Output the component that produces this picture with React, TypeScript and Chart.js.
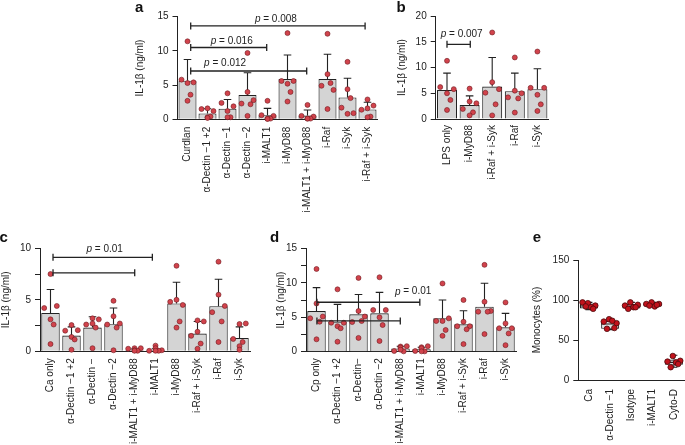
import React, { useEffect, useRef } from "react";
import { Chart, registerables } from "chart.js";

Chart.register(...registerables);

const FONT = '"Liberation Sans", Arial, Helvetica, sans-serif';
const INK = "#222222";
const BAR_FILL = "#d4d4d4";
const BOX_FILL = "#e2e2e2";

// ---------- Panel a ----------
const aLabels = ["Curdlan", "α-Dectin −1 +2", "α-Dectin −1", "α-Dectin −2", "i-MALT1", "i-MyD88", "i-MALT1 + i-MyD88", "i-Raf", "i-Syk", "i-Raf + i-Syk"];
const aMeans = [5.65, 0.85, 1.55, 3.55, 0.6, 5.9, 0.55, 5.9, 3.2, 1.45];
const aSD = [3.1, 0.7, 1.35, 3.25, 1.0, 3.5, 0.8, 3.6, 2.8, 1.05];
const aPoints = [
  [11.4, 5.8, 5.4, 5.3, 3.6, 2.7],
  [1.6, 1.5, 1.2, 0.3, 0.4, 0.2],
  [3.8, 2.4, 1.9, 1.2, 0.3, 0.3],
  [9.7, 2.3, 2.8, 4.0, 2.2, 0.5],
  [2.7, 0.6, 0.5, 0.1, 0.1, 0.05],
  [12.6, 5.6, 5.6, 5.2, 4.0, 2.6],
  [2.1, 0.5, 0.4, 0.1, 0.1, 0.1],
  [12.5, 4.9, 4.3, 6.6, 5.3, 1.5],
  [8.4, 1.7, 0.9, 4.4, 3.1, 0.8],
  [2.9, 1.4, 2.0, 1.6, 0.4, 0.3],
];
const aBrackets = [
  { from: 0.16, to: 8.88, y: 13.65, p: "0.008", labelX: 4.42, labelY: 14.6 },
  { from: 0.16, to: 3.96, y: 10.5, p: "0.016", labelX: 2.21, labelY: 11.45 },
  { from: 0.16, to: 5.96, y: 7.06, p: "0.012", labelX: 1.88, labelY: 8.2 },
];

// ---------- Panel b ----------
const bLabels = ["LPS only", "i-MyD88", "i-Raf + i-Syk", "i-Raf", "i-Syk"];
const bMeans = [5.65, 2.7, 6.3, 5.4, 5.8];
const bSD = [3.25, 1.8, 5.65, 3.5, 3.95];
const bPoints = [
  [11.3, 6.2, 5.8, 5.0, 3.7, 1.75],
  [5.9, 1.95, 3.05, 3.4, 1.3, 0.7],
  [16.8, 5.1, 5.8, 7.15, 2.85, 0.7],
  [11.95, 4.2, 5.0, 5.5, 4.0, 1.25],
  [13.1, 6.05, 6.05, 4.7, 2.85, 1.55],
];
const bBrackets = [{ from: 0, to: 1.03, y: 14.5, p: "0.007", labelX: 0.65, labelY: 16.5 }];

// ---------- Panel c ----------
const cLabels = ["Ca only", "α-Dectin −1 +2", "α-Dectin −", "α-Dectin −2", "i-MALT1 + i-MyD88", "i-MALT1", "i-MyD88", "i-Raf + i-Syk", "i-Raf", "i-Syk"];
const cMeans = [3.73, 1.53, 2.3, 2.63, 0.1, 0.1, 4.64, 1.72, 4.38, 1.3];
const cSD = [2.27, 0.84, 1.05, 1.57, 0.12, 0.15, 2.06, 1.18, 2.62, 1.07];
const cPoints = [
  [7.5, 4.2, 4.4, 3.1, 2.6, 0.7],
  [2.55, 2.0, 2.05, 1.4, 1.15, 0.15],
  [3.2, 2.6, 3.1, 2.7, 2.3, 0.3],
  [4.9, 2.6, 2.7, 3.4, 2.3, 0.1],
  [0.3, 0.25, 0.3, 0.1, 0.05, 0.05],
  [0.55, 0.05, 0.1, 0.3, 0.05, 0.05],
  [8.3, 4.8, 4.5, 5.0, 2.9, 2.3],
  [3.0, 1.5, 2.9, 1.9, 0.75, 0.25],
  [8.7, 3.8, 4.4, 5.5, 2.9, 0.9],
  [2.65, 1.2, 2.7, 0.5, 0.9, 0.15],
];
const cBrackets = [
  { from: 0.12, to: 4.85, y: 9.12, p: "0.01", labelX: 2.58, labelY: 9.93 },
  { from: 0.12, to: 4.01, y: 7.62 },
];

// ---------- Panel d ----------
const dLabels = ["Cp only", "α-Dectin −1 +2", "α-Dectin−", "α-Dectin −2", "i-MALT1 + i-MyD88", "i-MALT1", "i-MyD88", "i-Raf + i-Syk", "i-Raf", "i-Syk"];
const dMeans = [5.9, 4.35, 5.42, 5.56, 0.48, 0.35, 4.84, 3.97, 6.53, 3.53];
const dSD = [3.4, 2.52, 2.88, 3.04, 0.3, 0.3, 2.66, 1.98, 3.39, 2.03];
const dPoints = [
  [12.0, 4.85, 5.1, 7.0, 4.35, 1.8],
  [9.05, 4.2, 4.2, 3.7, 3.4, 1.45],
  [10.7, 4.3, 5.1, 5.9, 4.45, 2.0],
  [10.8, 6.05, 6.05, 4.98, 3.87, 1.55],
  [0.75, 0.1, 0.8, 0.6, 0.05, 0.3],
  [0.65, 0.1, 0.8, 0.5, 0.05, 0.05],
  [9.9, 4.45, 4.84, 4.45, 3.15, 2.3],
  [7.5, 3.7, 3.7, 4.35, 3.25, 1.1],
  [12.6, 5.8, 5.9, 7.25, 5.8, 2.55],
  [7.15, 3.4, 3.4, 4.1, 2.65, 0.95],
];
const dBrackets = [
  { from: 0.02, to: 4.92, y: 7.17, p: "0.01", labelX: 4.6, labelY: 8.7 },
  { from: 0.02, to: 3.99, y: 4.46 },
];

// ---------- Panel e ----------
const eLabels = ["Ca", "α-Dectin −1", "Isotype", "i-MALT1", "Cyto-D"];
const eQ1 = [89.5, 64, 89.5, 92, 19];
const eQ3 = [95.5, 74, 95, 95.5, 25.5];
const eMedian = [92.5, 70, 92, 94, 22];
const eLow = [88, 63, 89, 91.5, 16];
const eHigh = [97, 76, 97, 97, 31];
const ePoints = [
  [96, 97, 93, 91, 92, 89],
  [76, 73, 71, 74, 64, 65],
  [97, 93, 94, 91, 89, 91],
  [97, 95, 95, 92, 93, 94],
  [30, 23, 24, 22, 16, 20],
];

// ---------- styles / layout ----------
const BAR_JITTER = [0, -0.3, 0.3, 0, 0.15, 0];
const BOX_JITTER = [-0.05, -0.3, 0.3, 0.1, -0.15, 0.2];
const BAR_DOT = { r: 2.5, fill: "#d1434c", edge: "#6e1b20", edgeW: 0.6 };
const BOX_DOT = { r: 2.8, fill: "#c1121b", edge: "#4d0a0d", edgeW: 0.8 };
const Y_TITLE_IL = "IL-1β (ng/ml)";

type Bracket = { from: number; to: number; y: number; p?: string; labelX?: number; labelY?: number };
type Spec = {
  id: string;
  canvas: [number, number, number, number];
  area: [number, number, number, number];
  titleX: number;
  yTitle: string;
  labels: string[];
  yMax: number;
  yStep: number;
  yLabelEvery: number;
  barPct: number;
  labelPad: number;
  means?: number[];
  sds?: number[];
  box?: { q1: number[]; q3: number[]; med: number[]; lo: number[]; hi: number[] };
  points: number[][];
  jitter: number[];
  dot: { r: number; fill: string; edge: string; edgeW: number };
  brackets: Bracket[];
};

const SPECS: Spec[] = [
  {
    id: "a", canvas: [120, 0, 270, 215], area: [177.5, 16.7, 377.5, 119.3], titleX: 140, yTitle: Y_TITLE_IL,
    labels: aLabels, yMax: 15, yStep: 5, yLabelEvery: 5, barPct: 0.9, labelPad: 7.5,
    means: aMeans, sds: aSD, points: aPoints, jitter: BAR_JITTER, dot: BAR_DOT, brackets: aBrackets,
  },
  {
    id: "b", canvas: [385, 0, 175, 215], area: [435.7, 16, 548.7, 119], titleX: 402, yTitle: Y_TITLE_IL,
    labels: bLabels, yMax: 20, yStep: 5, yLabelEvery: 5, barPct: 0.885, labelPad: 6,
    means: bMeans, sds: bSD, points: bPoints, jitter: BAR_JITTER, dot: BAR_DOT, brackets: bBrackets,
  },
  {
    id: "c", canvas: [0, 215, 262, 230], area: [40, 248.3, 250, 351.3], titleX: 6, yTitle: Y_TITLE_IL,
    labels: cLabels, yMax: 10, yStep: 2.5, yLabelEvery: 5, barPct: 0.88, labelPad: 7,
    means: cMeans, sds: cSD, points: cPoints, jitter: BAR_JITTER, dot: BAR_DOT, brackets: cBrackets,
  },
  {
    id: "d", canvas: [270, 215, 258, 230], area: [306, 248.3, 516, 351.7], titleX: 281, yTitle: Y_TITLE_IL,
    labels: dLabels, yMax: 15, yStep: 2.5, yLabelEvery: 5, barPct: 0.88, labelPad: 6.5,
    means: dMeans, sds: dSD, points: dPoints, jitter: BAR_JITTER, dot: BAR_DOT, brackets: dBrackets,
  },
  {
    id: "e", canvas: [528, 215, 170, 230], area: [578.3, 260, 684.5, 380], titleX: 537, yTitle: "Monocytes (%)",
    labels: eLabels, yMax: 150, yStep: 50, yLabelEvery: 50, barPct: 0.85, labelPad: 9,
    box: { q1: eQ1, q3: eQ3, med: eMedian, lo: eLow, hi: eHigh }, points: ePoints, jitter: BOX_JITTER, dot: BOX_DOT, brackets: [],
  },
];

const LETTERS: { t: string; x: number; base: number }[] = [
  { t: "a", x: 135, base: 12 },
  { t: "b", x: 396.5, base: 11.7 },
  { t: "c", x: -0.5, base: 241.7 },
  { t: "d", x: 270, base: 241.7 },
  { t: "e", x: 532.7, base: 241.7 },
];

function makePlugin(s: Spec) {
  return {
    id: "extras_" + s.id,
    afterDatasetDraw(chart: any, args: any) {
      if (args.index !== 0) return;
      const { ctx } = chart;
      const x = chart.scales.x;
      const y = chart.scales.y;
      const half = (x.getPixelForValue(1) - x.getPixelForValue(0)) * s.barPct / 2;
      ctx.save();
      ctx.strokeStyle = INK;
      ctx.lineWidth = 1.1;
      if (s.means && s.sds) {
        s.means.forEach((m, i) => {
          const px = x.getPixelForValue(i);
          const y0 = y.getPixelForValue(m);
          const y1 = y.getPixelForValue(m + s.sds![i]);
          ctx.beginPath();
          ctx.moveTo(px, y0);
          ctx.lineTo(px, y1);
          ctx.moveTo(px - 3.8, y1);
          ctx.lineTo(px + 3.8, y1);
          ctx.stroke();
        });
      }
      if (s.box) {
        const b = s.box;
        b.med.forEach((m, i) => {
          const px = x.getPixelForValue(i);
          const ym = y.getPixelForValue(m);
          ctx.beginPath();
          ctx.moveTo(px - half, ym);
          ctx.lineTo(px + half, ym);
          const yq3 = y.getPixelForValue(b.q3[i]);
          const yhi = y.getPixelForValue(b.hi[i]);
          const yq1 = y.getPixelForValue(b.q1[i]);
          const ylo = y.getPixelForValue(b.lo[i]);
          ctx.moveTo(px, yq3);
          ctx.lineTo(px, yhi);
          ctx.moveTo(px - 3.5, yhi);
          ctx.lineTo(px + 3.5, yhi);
          ctx.moveTo(px, yq1);
          ctx.lineTo(px, ylo);
          ctx.moveTo(px - 3.5, ylo);
          ctx.lineTo(px + 3.5, ylo);
          ctx.stroke();
        });
      }
      ctx.restore();
    },
    afterDatasetsDraw(chart: any) {
      const { ctx } = chart;
      const x = chart.scales.x;
      const y = chart.scales.y;
      ctx.save();
      ctx.strokeStyle = INK;
      ctx.fillStyle = INK;
      ctx.lineWidth = 1.3;
      s.brackets.forEach((br) => {
        const x0 = x.getPixelForValue(br.from);
        const x1 = x.getPixelForValue(br.to);
        const yy = y.getPixelForValue(br.y);
        ctx.beginPath();
        ctx.moveTo(x0, yy);
        ctx.lineTo(x1, yy);
        ctx.moveTo(x0, yy - 3.5);
        ctx.lineTo(x0, yy + 3.5);
        ctx.moveTo(x1, yy - 3.5);
        ctx.lineTo(x1, yy + 3.5);
        ctx.stroke();
        if (br.p) {
          const cx = x.getPixelForValue(br.labelX!);
          const cy = y.getPixelForValue(br.labelY!);
          ctx.textBaseline = "middle";
          ctx.textAlign = "left";
          ctx.font = `italic 10px ${FONT}`;
          const wp = ctx.measureText("p").width;
          const rest = " = " + br.p;
          ctx.font = `10px ${FONT}`;
          const wr = ctx.measureText(rest).width;
          const sx = cx - (wp + wr) / 2;
          ctx.font = `italic 10px ${FONT}`;
          ctx.fillText("p", sx, cy);
          ctx.font = `10px ${FONT}`;
          ctx.fillText(rest, sx + wp, cy);
        }
      });
      ctx.restore();
    },
  };
}

function buildConfig(s: Spec): any {
  const [cl, ct, cw, ch] = s.canvas;
  const [al, at, ar, ab] = s.area;
  const n = s.labels.length;
  const barData = s.box
    ? s.box.q1.map((q, i) => ({ x: i, y: [q, s.box!.q3[i]] }))
    : s.means!.map((m, i) => ({ x: i, y: m }));
  const dots = s.points.flatMap((vals, i) =>
    vals.map((v, j) => ({ x: i + s.jitter[j % s.jitter.length], y: v }))
  );
  const yWidth = al - cl;
  const xHeight = ct + ch - ab;
  return {
    type: "bar",
    data: {
      datasets: [
        {
          type: "bar",
          data: barData,
          backgroundColor: s.box ? BOX_FILL : BAR_FILL,
          borderColor: INK,
          borderWidth: 1.1,
          borderSkipped: s.box ? false : "start",
          barPercentage: s.barPct,
          categoryPercentage: 1,
          order: 2,
        },
        {
          type: "scatter",
          data: dots,
          pointRadius: s.dot.r,
          pointBackgroundColor: s.dot.fill,
          pointBorderColor: s.dot.edge,
          pointBorderWidth: s.dot.edgeW,
          showLine: false,
          clip: false,
          order: 1,
        },
      ],
    },
    options: {
      animation: false,
      responsive: false,
      events: [],
      layout: { padding: { left: 0, top: at - ct, right: cl + cw - ar, bottom: 0 } },
      plugins: { legend: { display: false }, tooltip: { enabled: false } },
      scales: {
        x: {
          type: "linear",
          min: -0.5,
          max: n - 0.5,
          offset: false,
          bounds: "data",
          grid: { display: false, drawTicks: false },
          border: { display: true, color: INK, width: 1 },
          ticks: {
            autoSkip: false,
            minRotation: 90,
            maxRotation: 90,
            padding: s.labelPad,
            color: INK,
            font: { family: FONT, size: 10 },
            callback: (v: any) => {
              const i = Math.round(Number(v));
              return s.labels[i] ?? "";
            },
          },
          afterBuildTicks: (scale: any) => {
            scale.ticks = s.labels.map((_, i) => ({ value: i }));
          },
          afterFit: (scale: any) => {
            scale.height = xHeight;
          },
        },
        y: {
          min: 0,
          max: s.yMax,
          grid: { display: true, drawOnChartArea: false, drawTicks: true, tickLength: 5, color: INK, lineWidth: 1 },
          border: { display: true, color: INK, width: 1 },
          ticks: {
            stepSize: s.yStep,
            padding: 4,
            color: INK,
            font: { family: FONT, size: 10 },
            callback: (v: any) => {
              const num = Number(v);
              return Math.abs(num / s.yLabelEvery - Math.round(num / s.yLabelEvery)) < 1e-6 ? String(num) : "";
            },
          },
          title: {
            display: true,
            text: s.yTitle,
            color: INK,
            font: { family: FONT, size: 10 },
            padding: { top: Math.max(0, s.titleX - cl - 6), bottom: 0 },
          },
          afterFit: (scale: any) => {
            scale.width = yWidth;
          },
        },
      },
    },
    plugins: [makePlugin(s)],
  };
}

function PanelChart({ spec }: { spec: Spec }) {
  const ref = useRef<HTMLCanvasElement | null>(null);
  useEffect(() => {
    if (!ref.current) return;
    const chart = new Chart(ref.current, buildConfig(spec));
    return () => chart.destroy();
  }, [spec]);
  const [cl, ct, cw, ch] = spec.canvas;
  return (
    <canvas
      ref={ref}
      width={cw}
      height={ch}
      style={{ position: "absolute", left: cl, top: ct, width: cw, height: ch }}
    />
  );
}

export default function App() {
  return (
    <div
      style={{
        position: "fixed",
        left: 0,
        top: 0,
        width: 685,
        height: 445,
        overflow: "hidden",
        background: "#ffffff",
      }}
    >
      {SPECS.map((s) => (
        <PanelChart key={s.id} spec={s} />
      ))}
      {LETTERS.map((l) => (
        <div
          key={l.t}
          style={{
            position: "absolute",
            left: l.x,
            top: l.base - 12.7,
            fontFamily: FONT,
            fontWeight: "bold",
            fontSize: 15,
            lineHeight: "15px",
            color: "#111",
          }}
        >
          {l.t}
        </div>
      ))}
    </div>
  );
}
